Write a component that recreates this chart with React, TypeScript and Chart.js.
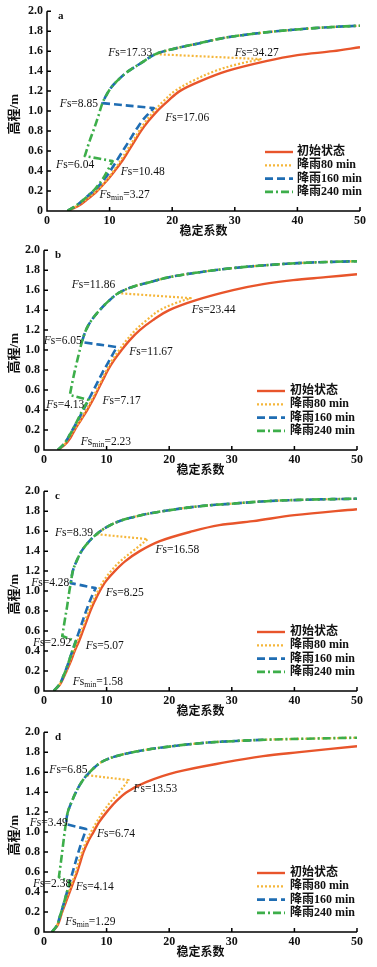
import React, { useEffect, useRef } from "react";
import { Chart, registerables } from "chart.js";
Chart.register(...registerables);

type P = [number, number];
type Lab = [string, number, number, number];

const seriesNames = ["初始状态", "降雨80 min", "降雨160 min", "降雨240 min"];
const xTickStep = 10;
const yTickStep = 0.2;
const xTitle = "稳定系数";
const yTitle = "高程/m";

// ---------- panel a ----------
const aInit: P[] = [[3.27,0],[5,0.05],[6.5,0.12],[8,0.2],[9.5,0.3],[10.8,0.4],[12,0.5],[13,0.6],[14,0.7],[15,0.8],[16.2,0.9],[17.6,1.0],[19.3,1.1],[21.2,1.2],[24.5,1.3],[28.7,1.4],[35,1.5],[40,1.56],[45.7,1.6],[50,1.64]];
const aRain80Lower: P[] = [[3.27,0],[5,0.06],[6.5,0.13],[7.9,0.2],[9.4,0.3],[10.6,0.4],[11.7,0.5],[12.7,0.6],[13.7,0.7],[14.7,0.8],[15.8,0.9],[17.1,1.0],[18.6,1.1],[20.4,1.2],[23.2,1.3],[26.8,1.4],[30.5,1.47],[34.27,1.52]];
const aRain160Lower: P[] = [[3.27,0],[5,0.07],[6.5,0.15],[7.8,0.22],[9.2,0.32],[10.3,0.42],[11.3,0.52],[12.3,0.62],[13.3,0.72],[14.3,0.82],[15.3,0.91],[16.3,0.98],[17.06,1.03]];
const aRain240Lower: P[] = [[3.27,0],[5,0.07],[6.5,0.15],[7.8,0.23],[9,0.33],[9.8,0.42],[10.48,0.5]];
const aRain240Rise: P[] = [[6.04,0.55],[6.8,0.7],[7.5,0.82],[8.2,0.95],[8.85,1.08]];
const aUpper: P[] = [[8.85,1.08],[9.4,1.15],[10.3,1.24],[11.5,1.32],[13,1.4],[15,1.48],[17.33,1.57],[20,1.62],[24.4,1.68],[28,1.73],[32.4,1.77],[36,1.795],[40.4,1.82],[45,1.84],[50,1.855]];
const aLabels: Lab[] = [["17.33",13.3,1.58,0],["34.27",33.5,1.58,0],["8.85",5.1,1.07,0],["17.06",22.4,0.93,0],["6.04",4.5,0.46,0],["10.48",15.3,0.39,0],["3.27",12.4,0.16,1]];

// ---------- panel b ----------
const bInit: P[] = [[2.23,0],[3.3,0.05],[4.2,0.12],[4.9,0.2],[5.9,0.3],[6.9,0.4],[7.8,0.5],[8.6,0.6],[9.4,0.7],[10.2,0.8],[11.2,0.9],[12.4,1.0],[13.7,1.1],[15.3,1.2],[17.4,1.3],[20,1.4],[24.3,1.5],[30.2,1.6],[35,1.66],[39.8,1.7],[45,1.73],[50,1.76]];
const bRain80Lower: P[] = [[2.23,0],[3.3,0.06],[4.1,0.13],[4.8,0.2],[5.8,0.3],[6.7,0.4],[7.6,0.5],[8.4,0.6],[9.2,0.7],[10,0.8],[10.9,0.9],[12,1.0],[13.2,1.1],[14.6,1.2],[16.4,1.3],[18.5,1.4],[21,1.47],[23.44,1.52]];
const bRain160Lower: P[] = [[2.23,0],[3.3,0.07],[4.1,0.15],[4.8,0.23],[5.7,0.33],[6.6,0.44],[7.5,0.55],[8.4,0.66],[9.3,0.77],[10.2,0.87],[11,0.96],[11.67,1.03]];
const bRain240Lower: P[] = [[2.23,0],[3.3,0.07],[4.1,0.15],[4.8,0.23],[5.6,0.33],[6.4,0.43],[7.17,0.5]];
const bRain240Rise: P[] = [[4.13,0.55],[4.6,0.7],[5.1,0.84],[5.6,0.97],[6.05,1.08]];
const bUpper: P[] = [[6.05,1.08],[6.7,1.2],[7.6,1.3],[8.9,1.4],[10.3,1.49],[11.86,1.57],[14,1.63],[16.9,1.68],[20,1.73],[24.9,1.78],[30,1.82],[35.5,1.85],[42,1.875],[50,1.89]];
const bLabels: Lab[] = [["11.86",7.9,1.65,0],["23.44",27.1,1.40,0],["6.05",3.0,1.09,0],["11.67",17.1,0.98,0],["4.13",3.4,0.455,0],["7.17",12.4,0.49,0],["2.23",9.9,0.08,1]];

// ---------- panel c ----------
const cInit: P[] = [[1.58,0],[2.5,0.06],[3.1,0.13],[3.6,0.2],[4.3,0.3],[4.9,0.4],[5.6,0.5],[6.2,0.6],[6.8,0.7],[7.4,0.8],[8.1,0.9],[8.9,1.0],[9.9,1.1],[11.3,1.2],[13,1.3],[15.3,1.4],[18.5,1.5],[23.8,1.6],[28,1.66],[33.4,1.7],[40,1.76],[50,1.82]];
const cRain80Lower: P[] = [[1.58,0],[2.5,0.07],[3.1,0.14],[3.6,0.21],[4.2,0.31],[4.8,0.41],[5.4,0.51],[6,0.61],[6.6,0.71],[7.2,0.81],[7.8,0.9],[8.6,1.0],[9.5,1.1],[10.7,1.2],[12.2,1.3],[14.2,1.4],[16.58,1.52]];
const cRain160Lower: P[] = [[1.58,0],[2.5,0.07],[3.1,0.15],[3.6,0.23],[4.2,0.34],[4.8,0.45],[5.4,0.56],[6,0.67],[6.6,0.78],[7.2,0.88],[7.8,0.97],[8.25,1.03]];
const cRain240Lower: P[] = [[1.58,0],[2.5,0.07],[3.1,0.15],[3.6,0.23],[4.2,0.34],[4.7,0.43],[5.07,0.5]];
const cRain240Rise: P[] = [[2.92,0.55],[3.3,0.7],[3.7,0.85],[4.05,1.0],[4.28,1.08]];
const cUpper: P[] = [[4.28,1.08],[4.6,1.2],[5.2,1.3],[6,1.4],[7.1,1.49],[8.39,1.57],[10,1.64],[12,1.7],[14.2,1.74],[18,1.79],[24.9,1.85],[30,1.875],[35.5,1.9],[42,1.915],[50,1.925]];
const cLabels: Lab[] = [["8.39",4.8,1.58,0],["16.58",21.3,1.41,0],["4.28",1.0,1.08,0],["8.25",12.9,0.98,0],["2.92",1.3,0.48,0],["5.07",9.7,0.455,0],["1.58",8.6,0.086,1]];

// ---------- panel d ----------
const dInit: P[] = [[1.29,0],[2.1,0.06],[2.5,0.12],[2.9,0.2],[3.5,0.3],[4.1,0.4],[4.7,0.5],[5.3,0.6],[5.8,0.7],[6.3,0.8],[7,0.9],[7.9,1.0],[8.8,1.1],[10,1.2],[11.4,1.3],[13.2,1.4],[16.3,1.5],[21.1,1.6],[29.1,1.7],[35,1.76],[40.8,1.8],[50,1.86]];
const dRain80Lower: P[] = [[1.29,0],[2.1,0.07],[2.5,0.13],[2.9,0.21],[3.4,0.31],[4,0.41],[4.6,0.51],[5.1,0.61],[5.6,0.71],[6.1,0.81],[6.7,0.9],[7.5,1.0],[8.4,1.1],[9.4,1.2],[10.6,1.3],[12,1.4],[13.53,1.52]];
const dRain160Lower: P[] = [[1.29,0],[2.1,0.07],[2.5,0.15],[2.9,0.23],[3.4,0.34],[3.9,0.45],[4.4,0.56],[4.9,0.67],[5.4,0.78],[5.9,0.88],[6.4,0.97],[6.74,1.03]];
const dRain240Lower: P[] = [[1.29,0],[2.1,0.07],[2.5,0.15],[2.9,0.23],[3.4,0.34],[3.8,0.43],[4.14,0.5]];
const dRain240Rise: P[] = [[2.38,0.55],[2.7,0.7],[3,0.85],[3.3,1.0],[3.49,1.08]];
const dUpper: P[] = [[3.49,1.08],[3.8,1.2],[4.4,1.3],[5.1,1.4],[5.9,1.49],[6.85,1.57],[8.9,1.69],[11,1.75],[14.2,1.8],[18,1.84],[24.9,1.89],[30,1.91],[35.5,1.925],[42,1.935],[50,1.945]];
const dLabels: Lab[] = [["6.85",3.9,1.62,0],["13.53",17.8,1.43,0],["3.49",0.75,1.09,0],["6.74",11.5,0.98,0],["2.38",1.3,0.48,0],["4.14",8.1,0.45,0],["1.29",7.4,0.10,1]];
const dRain160End = 36;

const SERIF = '"Liberation Serif", "Noto Sans CJK SC", serif';
const COLORS = ["#E8552B", "#F5B63A", "#1F6DB3", "#3DAE4A"];
const WIDTHS = [2.4, 2.2, 2.6, 2.6];
const DASHES: number[][] = [[], [2, 2], [8, 4], [8, 3, 2, 3]];

interface PanelCfg {
  letter: string; top: number; height: number; left: number; right: number;
  series: P[][]; labels: Lab[]; legendLine: number; legendText: number;
}

// a jump between two curves: repeat both ends so the spline keeps a sharp corner there
function jump(a: P[], b: P[]): P[] {
  return [...a, a[a.length - 1], b[0], ...b];
}

function build(lower80: P[], lower160: P[], lower240: P[], rise: P[], upper: P[], init: P[], end160 = 50): P[][] {
  const up80 = upper.filter((p) => p[1] >= 1.565);
  return [
    init,
    jump(lower80, up80),
    jump(lower160, upper.filter((p) => p[0] <= end160)),
    jump(lower240, rise.concat(upper.slice(1))),
  ];
}

const panels: PanelCfg[] = [
  { letter: "a", top: 0, height: 240, left: 47, right: 360, series: build(aRain80Lower, aRain160Lower, aRain240Lower, aRain240Rise, aUpper, aInit), labels: aLabels, legendLine: 265, legendText: 297 },
  { letter: "b", top: 239, height: 240, left: 44, right: 357, series: build(bRain80Lower, bRain160Lower, bRain240Lower, bRain240Rise, bUpper, bInit), labels: bLabels, legendLine: 257, legendText: 290 },
  { letter: "c", top: 480, height: 240, left: 44, right: 357, series: build(cRain80Lower, cRain160Lower, cRain240Lower, cRain240Rise, cUpper, cInit), labels: cLabels, legendLine: 257, legendText: 290 },
  { letter: "d", top: 721, height: 246, left: 44, right: 357, series: build(dRain80Lower, dRain160Lower, dRain240Lower, dRain240Rise, dUpper, dInit, dRain160End), labels: dLabels, legendLine: 257, legendText: 290 },
];

function drawFs(ctx: CanvasRenderingContext2D, cx: number, cy: number, value: string, isMin: boolean) {
  const size = 11.5;
  const fI = `italic ${size}px "Liberation Serif"`;
  const fR = `${size}px "Liberation Serif"`;
  const fS = `${size * 0.68}px "Liberation Serif"`;
  ctx.font = fI; const wF = ctx.measureText("F").width;
  ctx.font = fR; const ws = ctx.measureText("s").width;
  const rest = "=" + value; const wr = ctx.measureText(rest).width;
  ctx.font = fS; const wm = isMin ? ctx.measureText("min").width : 0;
  let x = cx - (wF + ws + wm + wr) / 2;
  ctx.fillStyle = "#111";
  ctx.textBaseline = "middle";
  ctx.textAlign = "left";
  ctx.font = fI; ctx.fillText("F", x, cy); x += wF;
  ctx.font = fR; ctx.fillText("s", x, cy); x += ws;
  if (isMin) { ctx.font = fS; ctx.fillText("min", x, cy + 3); x += wm; }
  ctx.font = fR; ctx.fillText(rest, x, cy);
}

function decor(cfg: PanelCfg) {
  return {
    id: "decor" + cfg.letter,
    afterDraw(chart: any) {
      const { ctx, chartArea } = chart;
      const { left, right, top, bottom } = chartArea;
      const xs = chart.scales.x, ys = chart.scales.y;
      ctx.save();
      ctx.strokeStyle = "#000";
      ctx.lineWidth = 1.5;
      ctx.setLineDash([]);
      ctx.beginPath();
      ctx.moveTo(left, top);
      ctx.lineTo(left, bottom);
      ctx.lineTo(right, bottom);
      ys.ticks.forEach((t: any) => { const py = ys.getPixelForValue(t.value); ctx.moveTo(left, py); ctx.lineTo(left + 4, py); });
      xs.ticks.forEach((t: any) => { const px = xs.getPixelForValue(t.value); ctx.moveTo(px, bottom); ctx.lineTo(px, bottom - 4); });
      ctx.stroke();

      // titles
      ctx.fillStyle = "#111";
      ctx.font = `bold 12px ${SERIF}`;
      ctx.textAlign = "center";
      ctx.textBaseline = "middle";
      ctx.fillText(xTitle, (left + right) / 2, bottom + 21);
      ctx.save();
      ctx.translate(14.5, top + 103);
      ctx.rotate(-Math.PI / 2);
      ctx.font = `bold 13px ${SERIF}`;
      ctx.fillText(yTitle, 0, 0);
      ctx.restore();

      // panel letter
      ctx.font = `bold 11px ${SERIF}`;
      ctx.textAlign = "left";
      ctx.fillText(cfg.letter, left + 11, top + 5);

      // annotations
      cfg.labels.forEach(([v, lx, ly, m]) => {
        drawFs(ctx, xs.getPixelForValue(lx), ys.getPixelForValue(ly), v, m === 1);
      });

      // legend
      seriesNames.forEach((name, i) => {
        const cy = bottom - 59 + i * 13.3;
        ctx.strokeStyle = COLORS[i];
        ctx.lineWidth = WIDTHS[i];
        ctx.setLineDash(DASHES[i]);
        ctx.beginPath();
        ctx.moveTo(cfg.legendLine, cy);
        ctx.lineTo(cfg.legendLine + 28, cy);
        ctx.stroke();
        ctx.setLineDash([]);
        ctx.fillStyle = "#111";
        ctx.font = `bold 12px ${SERIF}`;
        ctx.textAlign = "left";
        ctx.textBaseline = "middle";
        ctx.fillText(name, cfg.legendText, cy);
      });
      ctx.restore();
    },
  };
}

function Panel({ cfg }: { cfg: PanelCfg }) {
  const ref = useRef<HTMLCanvasElement>(null);
  useEffect(() => {
    const canvas = ref.current!;
    const order = [3, 2, 1, 0];
    const chart = new Chart(canvas, {
      type: "line",
      data: {
        datasets: cfg.series.map((pts, i) => ({
          label: seriesNames[i],
          data: pts.map(([x, y]) => ({ x, y })),
          borderColor: COLORS[i],
          borderWidth: WIDTHS[i],
          borderDash: DASHES[i],
          borderCapStyle: "butt",
          borderJoinStyle: "round",
          pointRadius: 0,
          pointHoverRadius: 0,
          tension: 0.35,
          fill: false,
          order: order[i],
        })),
      },
      options: {
        responsive: false,
        animation: false,
        devicePixelRatio: 1,
        events: [],
        layout: { padding: { top: 11, right: 377 - cfg.right, left: 0, bottom: 0 } },
        plugins: { legend: { display: false }, tooltip: { enabled: false } },
        scales: {
          x: {
            type: "linear", min: 0, max: 50,
            ticks: { stepSize: xTickStep, color: "#111", padding: 3, maxRotation: 0, font: { family: SERIF, size: 12, weight: "bold" } },
            grid: { display: false, drawTicks: false },
            border: { display: false },
            afterFit: (s: any) => { s.height = cfg.height - 211; },
          },
          y: {
            type: "linear", min: 0, max: 2,
            ticks: {
              stepSize: yTickStep, color: "#111", padding: 4,
              font: { family: SERIF, size: 12, weight: "bold" },
              callback: (v: any) => (Math.abs(Number(v)) < 1e-9 ? "0" : Number(v).toFixed(1)),
            },
            grid: { display: false, drawTicks: false },
            border: { display: false },
            afterFit: (s: any) => { s.width = cfg.left; },
          },
        },
      } as any,
      plugins: [decor(cfg)],
    });
    return () => chart.destroy();
  }, [cfg]);
  return (
    <canvas
      ref={ref}
      width={377}
      height={cfg.height}
      style={{ position: "absolute", left: 0, top: cfg.top, width: 377, height: cfg.height, display: "block" }}
    />
  );
}

export default function App() {
  return (
    <div style={{ position: "absolute", left: 0, top: 0, width: 377, height: 967, background: "#fff", overflow: "hidden" }}>
      {panels.map((p) => (
        <Panel key={p.letter} cfg={p} />
      ))}
    </div>
  );
}
